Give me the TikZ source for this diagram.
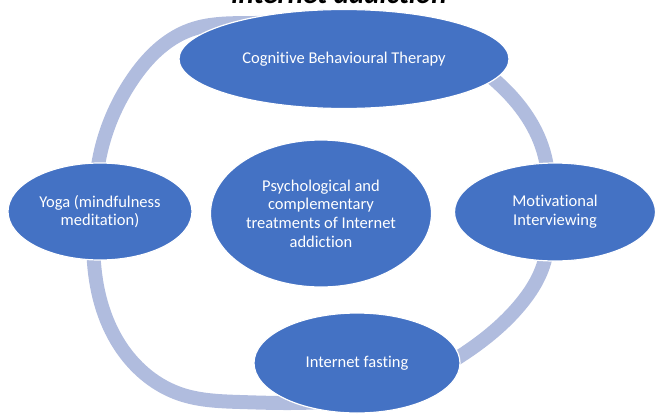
\documentclass[tikz,border=0pt]{standalone}
\usepackage{fontspec}
\setmainfont{Carlito}[Ligatures=NoCommon]
\usetikzlibrary{shapes.geometric,hobby}
\definecolor{nodeblue}{RGB}{68,114,196}
\definecolor{ringblue}{RGB}{176,188,222}
\begin{document}
\begin{tikzpicture}[x=1pt,y=-1pt,
  bubble/.style={ellipse, fill=nodeblue, draw=white, line width=1.2pt,
    inner sep=0pt, text=white, align=center,
    font=\fontsize{16.5}{18.7}\selectfont},
  ring/.style={draw=ringblue, line width=14pt}]
\useasboundingbox (0,0) rectangle (655,415);
\clip (0,0) rectangle (655,415);
% heading line running off the top edge
\node[anchor=base, inner sep=0pt, font=\fontsize{29}{31}\selectfont\bfseries\itshape] (title) at (339,4) {internet addiction};
% the cycle ring behind the bubbles, a smooth closed curve
\draw[ring, use Hobby shortcut, closed=true]
  (94,212) .. (99,160) .. (132,80) .. (190,30) .. (255,23) .. (340,22)
  .. (440,45) .. (498,83) .. (545,157) .. (549,212) .. (544,263)
  .. (520,305) .. (465,353) .. (380,393) .. (290,403) .. (240,402)
  .. (180,394) .. (123,350) .. (94,263);
% bubbles
\node[bubble, minimum width=330pt, minimum height=99pt] (cbt) at (344,59) {Cognitive Behavioural Therapy};
\node[bubble, minimum width=184pt, minimum height=97pt] (yoga) at (100,211.5) {Yoga (mindfulness\\meditation)};
\node[bubble, minimum width=201pt, minimum height=98pt] (mi) at (555,212) {Motivational\\Interviewing};
\node[bubble, minimum width=206pt, minimum height=100pt] (fast) at (357,363) {Internet fasting};
\node[bubble, minimum width=221pt, minimum height=147pt] (core) at (321,213.5) {Psychological and\\complementary\\treatments of Internet\\addiction};
\end{tikzpicture}
\end{document}
